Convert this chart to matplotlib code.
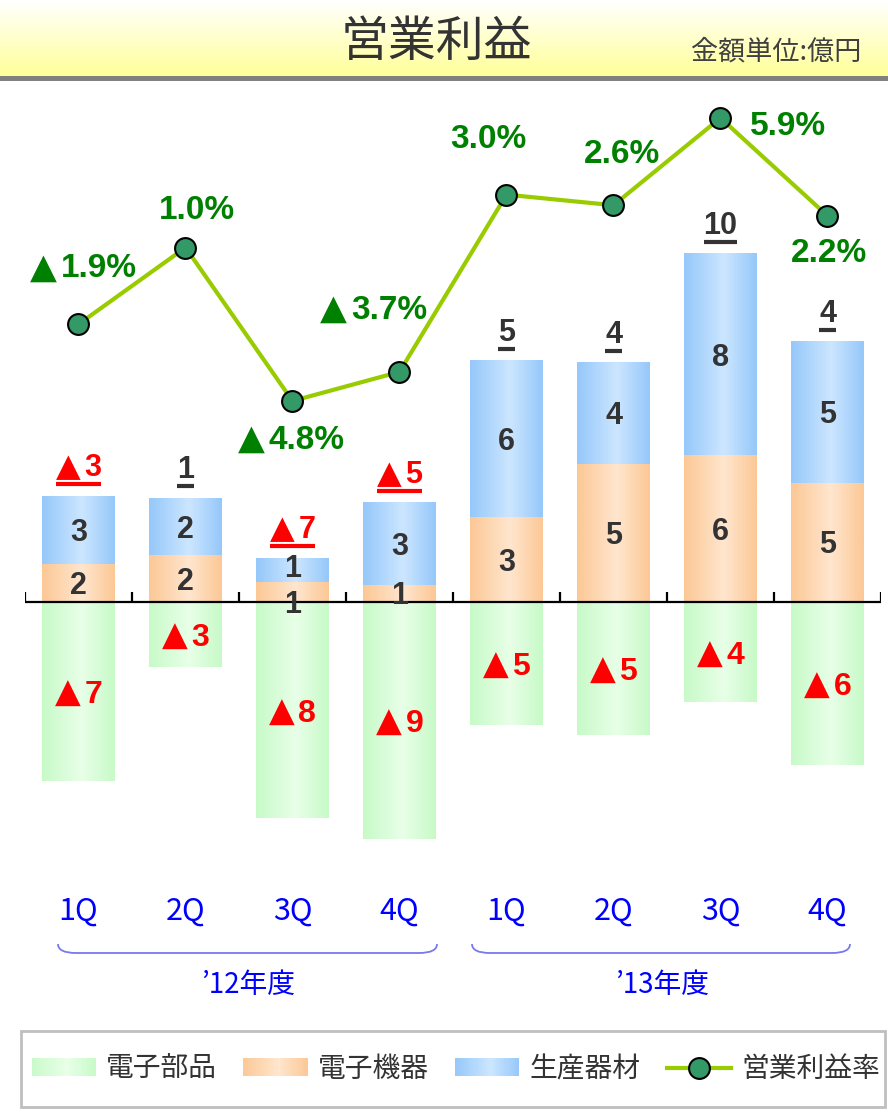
import matplotlib
matplotlib.use('Agg')
import matplotlib.pyplot as plt
import numpy as np
from matplotlib.colors import to_rgb
from matplotlib.patches import Rectangle, Patch, PathPatch
from matplotlib.path import Path
from matplotlib.lines import Line2D
from matplotlib.legend_handler import HandlerBase

plt.rcParams['font.family'] = ['Noto Sans CJK JP', 'DejaVu Sans']
NUM_FONT = ['Liberation Sans', 'DejaVu Sans']

# data (億円 / %)
quarters = ['1Q', '2Q', '3Q', '4Q', '1Q', '2Q', '3Q', '4Q']
years = ['’12年度', '’13年度']
denshi_buhin = [-7.25, -2.63, -8.75, -9.6, -4.98, -5.38, -4.05, -6.6]   # 電子部品
denshi_kiki = [1.54, 1.9, 0.81, 0.69, 3.44, 5.59, 5.95, 4.82]           # 電子機器
seisan_kizai = [2.75, 2.3, 0.97, 3.32, 6.32, 4.09, 8.14, 5.71]          # 生産器材
margin = [-1.9, 1.0, -4.8, -3.7, 3.0, 2.6, 5.9, 2.2]                    # 営業利益率

buhin_labels = ['▲7', '▲3', '▲8', '▲9', '▲5', '▲5', '▲4', '▲6']
kiki_labels = ['2', '2', '1', '1', '3', '5', '6', '5']
kizai_labels = ['3', '2', '1', '3', '6', '4', '8', '5']
total_labels = ['▲3', '1', '▲7', '▲5', '5', '4', '10', '4']
margin_labels = ['▲1.9%', '1.0%', '▲4.8%', '▲3.7%', '3.0%', '2.6%', '5.9%', '2.2%']

# label placement tweaks (pixels)
margin_offsets = [(5, 59), (11, 41), (-1, -36), (-26, 65), (-18, 59), (9, 54), (68, -5), (2, -34)]
kiki_nudge = [0, 0, -10, 0, 0, 0, 0, 0]
kizai_nudge = [0, 0, 4, 0, 0, 0, 0, 0]

colors = {
    'buhin': ('#C8FAC8', '#E8FFE8'),
    'kiki': ('#FCC896', '#FFE6CE'),
    'kizai': ('#96C8FA', '#CCE6FF'),
}


def grad_color(edge, light, t):
    e = np.array(to_rgb(edge))
    l = np.array(to_rgb(light))
    w = np.where(t < 0.55, t / 0.55, (1 - t) / 0.45)
    w = np.atleast_1d(w)
    return e[None, :] * (1 - w[:, None]) + l[None, :] * w[:, None]


def grad_img(edge, light, n=64):
    return grad_color(edge, light, np.linspace(0, 1, n))[None, :, :]


class GradHandler(HandlerBase):
    def __init__(self, edge, light):
        super().__init__()
        self.edge, self.light = edge, light

    def create_artists(self, legend, orig_handle, xdescent, ydescent,
                       width, height, fontsize, trans):
        n = 30
        cols = grad_color(self.edge, self.light, (np.arange(n) + 0.5) / n)
        arts = []
        for k in range(n):
            arts.append(Rectangle((-xdescent + width * k / n, -ydescent), width / n * 1.1, height,
                                  facecolor=cols[k], edgecolor='none', transform=trans))
        return arts


pairs = []   # (triangle text, number text, dx, dy)


def num_label(axis, xy, text, dx, dy_center, size, color):
    """bold number label; a leading ▲ is drawn larger, like the original"""
    dy = dy_center - 0.36 * size * 100 / 72
    kw = dict(xy=xy, textcoords='offset pixels', va='baseline', color=color, zorder=6)
    if text.startswith('▲'):
        tri = axis.annotate('▲', xytext=(dx, dy), ha='left', fontsize=size * 1.05,
                            family='DejaVu Sans', **kw)
        num = axis.annotate(text[1:], xytext=(dx, dy), ha='left', fontsize=size,
                            fontweight='bold', family=NUM_FONT, **kw)
        pairs.append((tri, num, dx, dy))
        return [tri, num]
    t = axis.annotate(text, xytext=(dx, dy), ha='center', fontsize=size,
                      fontweight='bold', family=NUM_FONT, **kw)
    return [t]


W, H = 888, 1113
fig = plt.figure(figsize=(W / 100, H / 100), dpi=100)

# decoration layer in pixel coordinates
deco = fig.add_axes([0, 0, 1, 1], zorder=0)
deco.set_xlim(0, W)
deco.set_ylim(H, 0)
deco.axis('off')

# title bar
tb = np.linspace(0, 1, 64)[:, None, None]
title_img = np.ones((64, 1, 3)) * (1 - tb) + np.array(to_rgb('#FFFF99'))[None, None, :] * tb
deco.imshow(title_img, extent=(0, W, 76, 0), aspect='auto', interpolation='bilinear')
deco.add_patch(Rectangle((0, 76), W, 4.5, facecolor='#808080', edgecolor='none'))
deco.text(436, 42, '営業利益', fontsize=34.5, color='#333333', ha='center', va='center')
deco.text(861, 52, '金額単位:億円', fontsize=19.5, color='#404040', ha='right', va='center')

# main axes
left_px, right_px, top_px, bot_px = 25, 881, 80, 860
ax = fig.add_axes([left_px / W, 1 - bot_px / H, (right_px - left_px) / W, (bot_px - top_px) / H], zorder=2)
ax.patch.set_alpha(0)
x = np.arange(len(quarters))
bw = 0.68

b_kiki = ax.bar(x, denshi_kiki, bw, color='none')
b_kizai = ax.bar(x, seisan_kizai, bw, bottom=denshi_kiki, color='none')
b_buhin = ax.bar(x, denshi_buhin, bw, color='none')

for bars, key in [(b_kiki, 'kiki'), (b_kizai, 'kizai'), (b_buhin, 'buhin')]:
    img = grad_img(*colors[key])
    for p in bars:
        y0, y1 = sorted([p.get_y(), p.get_y() + p.get_height()])
        ax.imshow(img, extent=(p.get_x(), p.get_x() + p.get_width(), y0, y1),
                  aspect='auto', interpolation='bilinear', zorder=1)

ppu = 24.7
ax.set_xlim(-0.5, 7.5)
ax.set_ylim(-(bot_px - 602) / ppu, (602 - top_px) / ppu)
for s in ax.spines.values():
    s.set_visible(False)
ax.set_yticks([])
ax.set_xticks(x, quarters)
ax.tick_params(axis='x', length=0, pad=26, labelsize=22, labelcolor='#0000FF')

ax.plot([-0.5, 7.5], [0, 0], color='black', lw=1.6, zorder=3, solid_capstyle='butt')
ax.vlines(np.arange(-0.5, 8), 0, 10 / ppu, color='black', lw=1.6, zorder=3)

# labels in bars
for i in range(len(x)):
    num_label(ax, (x[i], denshi_kiki[i] / 2), kiki_labels[i], 0, kiki_nudge[i], 22, '#333333')
    num_label(ax, (x[i], denshi_kiki[i] + seisan_kizai[i] / 2), kizai_labels[i], 0,
              kizai_nudge[i], 22, '#333333')
    num_label(ax, (x[i], denshi_buhin[i] / 2), buhin_labels[i], 0, 0, 23, '#FF0000')

tot_texts = []
for i in range(len(x)):
    c = '#FF0000' if total_labels[i].startswith('▲') else '#333333'
    tot_texts.append(num_label(ax, (x[i], denshi_kiki[i] + seisan_kizai[i]), total_labels[i],
                               0, 31, 22, c))

# margin line
ax2 = ax.twinx()
ax2.set_zorder(3)
ppp = 26.45
ax2.set_ylim(-(bot_px - 274) / ppp, (274 - top_px) / ppp)
ax2.set_yticks([])
for s in ax2.spines.values():
    s.set_visible(False)
ax2.plot(x, margin, color='#99CC00', lw=3, marker='o', ms=15, mfc='#339966',
         mec='black', mew=1.5, zorder=5)
for i in range(len(x)):
    num_label(ax2, (x[i], margin[i]), margin_labels[i], margin_offsets[i][0],
              margin_offsets[i][1], 24, '#008000')

# year brackets
for (xa, xb), yl in zip([(58, 437), (472, 850)], years):
    verts = [(xa, 944), (xa, 953), (xa + 18, 953), (xb - 18, 953), (xb, 953), (xb, 944)]
    codes = [Path.MOVETO, Path.CURVE3, Path.CURVE3, Path.LINETO, Path.CURVE3, Path.CURVE3]
    deco.add_patch(PathPatch(Path(verts, codes), facecolor='none', edgecolor='#7878F0', lw=1.3))
    deco.text((xa + xb) / 2 + 1, 985, yl, fontsize=20, color='#0000FF', ha='center', va='center')

# legend
deco.add_patch(Rectangle((21, 1031), 864, 76, facecolor='white', edgecolor='#BFBFBF', lw=2))
h_buhin = Patch(label='電子部品')
h_kiki = Patch(label='電子機器')
h_kizai = Patch(label='生産器材')
h_line = Line2D([], [], color='#99CC00', lw=3, marker='o', ms=15, mfc='#339966',
                mec='black', mew=1.5, label='営業利益率')
fig.legend(handles=[h_buhin, h_kiki, h_kizai, h_line], ncol=4, loc='center',
           bbox_to_anchor=(456 / W, 1 - 1069 / H), frameon=False, fontsize=20,
           handlelength=2.3, handleheight=0.62, handletextpad=0.38, columnspacing=0.95,
           labelcolor='#333333',
           handler_map={h_buhin: GradHandler(*colors['buhin']),
                        h_kiki: GradHandler(*colors['kiki']),
                        h_kizai: GradHandler(*colors['kizai'])})

# center the ▲ + number pairs
fig.canvas.draw()
gap = 4
for tri, num, dx, dy in pairs:
    wt = tri.get_window_extent().width
    wn = num.get_window_extent().width
    total = wt + gap + wn
    tri.xyann = (dx - total / 2, dy)
    num.xyann = (dx - total / 2 + wt + gap, dy)

# underline total labels
fig.canvas.draw()
inv = fig.transFigure.inverted()
for texts in tot_texts:
    bbs = [t.get_window_extent() for t in texts]
    x0 = min(b.x0 for b in bbs)
    x1 = max(b.x1 for b in bbs)
    yb = ax.transData.transform(texts[-1].xy)[1] + texts[-1].xyann[1] - 8
    (fx0, fy), (fx1, _) = inv.transform([(x0, yb), (x1, yb)])
    fig.add_artist(Line2D([fx0, fx1], [fy, fy], color=texts[-1].get_color(), lw=3,
                          solid_capstyle='butt'))

fig.savefig('out.png', dpi=100)
